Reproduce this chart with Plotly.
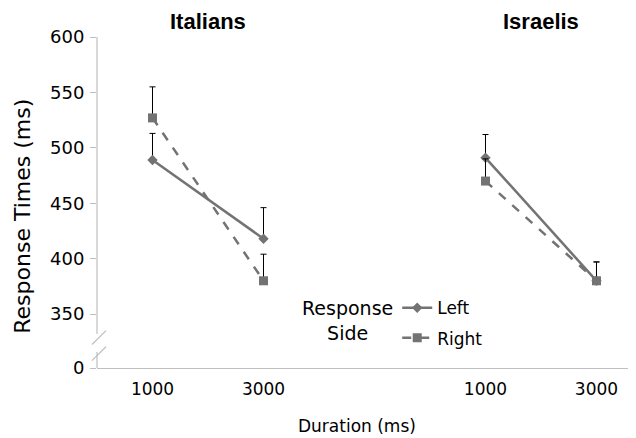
import plotly.graph_objects as go

# ---- data ----
durations = ["1000", "3000"]
groups = ["Italians", "Israelis"]
italians_left = [489, 418]
italians_left_err = [24, 28]
italians_right = [527, 380]
italians_right_err = [28, 24]
israelis_left = [491, 380]
israelis_left_err = [21, 17]
israelis_right = [470, 380]
israelis_right_err = [20, 17]
y_tick_values = [350, 400, 450, 500, 550, 600]

# ---- layout helpers ----
group_offset = {"Italians": 0, "Israelis": 3}
zero_pos = 301.3  # where the broken-axis "0" sits
line_color = "#737373"
axis_color = "#bfbfbf"
font_main = "DejaVu Sans"

def xs(group):
    return [group_offset[group] + i for i in range(len(durations))]

fig = go.Figure()

series = [
    ("Italians", "Left", italians_left, italians_left_err),
    ("Italians", "Right", italians_right, italians_right_err),
    ("Israelis", "Left", israelis_left, israelis_left_err),
    ("Israelis", "Right", israelis_right, israelis_right_err),
]
for grp, side, vals, errs in series:
    is_left = side == "Left"
    fig.add_trace(go.Scatter(
        x=xs(grp), y=vals, name=side,
        mode="lines+markers",
        line=dict(color=line_color, width=2.5, dash="solid" if is_left else "dash"),
        marker=dict(symbol="diamond" if is_left else "square",
                    size=8 if is_left else 9, color=line_color),
        error_y=dict(type="data", array=errs, arrayminus=[0] * len(errs), symmetric=False,
                     color="black", thickness=1, width=3),
        showlegend=(grp == "Italians"),
        legendgroup=side,
    ))

tickvals = [zero_pos] + y_tick_values
ticktext = ["0"] + [str(v) for v in y_tick_values]

all_x = []
for g in groups:
    all_x += xs(g)
all_text = durations * len(groups)

fig.update_layout(
    width=628, height=430,
    margin=dict(l=89, r=0, t=29, b=70),
    paper_bgcolor="white", plot_bgcolor="white",
    font=dict(family=font_main, color="black", size=17),
    xaxis=dict(range=[-0.5, 4.356], tickvals=all_x, ticktext=all_text,
               showgrid=False, zeroline=False, showline=True, linecolor=axis_color,
               linewidth=1, ticks="", tickfont=dict(size=17), ticklabelstandoff=6,
               automargin=False),
    yaxis=dict(range=[zero_pos, 600], tickvals=tickvals, ticktext=ticktext,
               showgrid=False, zeroline=False, showline=False,
               ticks="outside", ticklen=6, tickcolor=axis_color, tickwidth=1,
               tickfont=dict(size=18), ticklabelstandoff=2, automargin=False),
    legend=dict(x=0.557, y=0.235, xanchor="left", yanchor="top",
                font=dict(size=17), tracegroupgap=5, itemwidth=30,
                bgcolor="rgba(0,0,0,0)"),
    showlegend=True,
)

# axis titles
fig.add_annotation(x=-0.1373, y=0.46, xref="paper", yref="paper", text="Response Times (ms)",
                   textangle=-90, showarrow=False, xanchor="center", yanchor="middle",
                   font=dict(size=22, color="black"))
fig.add_annotation(x=0.482, y=-0.176, xref="paper", yref="paper", text="Duration (ms)",
                   showarrow=False, xanchor="center", yanchor="middle",
                   font=dict(size=17, color="black"))

# broken y-axis line
fig.add_shape(type="line", xref="paper", yref="y", x0=0, x1=0, y0=600, y1=332,
              line=dict(color=axis_color, width=1.2))
fig.add_shape(type="line", xref="paper", yref="y", x0=0, x1=0, y0=315.7, y1=zero_pos,
              line=dict(color=axis_color, width=1.2))
fig.add_shape(type="line", xref="paper", yref="y", x0=-0.0093, x1=0.0167, y0=322.5, y1=335,
              line=dict(color=axis_color, width=1.2))
fig.add_shape(type="line", xref="paper", yref="y", x0=-0.0093, x1=0.0167, y0=308, y1=320.5,
              line=dict(color=axis_color, width=1.2))

# group titles
for g in groups:
    fig.add_annotation(x=group_offset[g] + 0.5, y=1.0, xref="x", yref="paper",
                       yshift=30, text="<b>" + g + "</b>", showarrow=False,
                       font=dict(family="Liberation Sans", size=22, color="black"))

fig.add_annotation(x=0.465, y=0.065, xref="paper", yref="paper", text="Response<br>Side",
                   showarrow=False, font=dict(size=19, color="black"), align="center")

fig.write_html("out.html")
